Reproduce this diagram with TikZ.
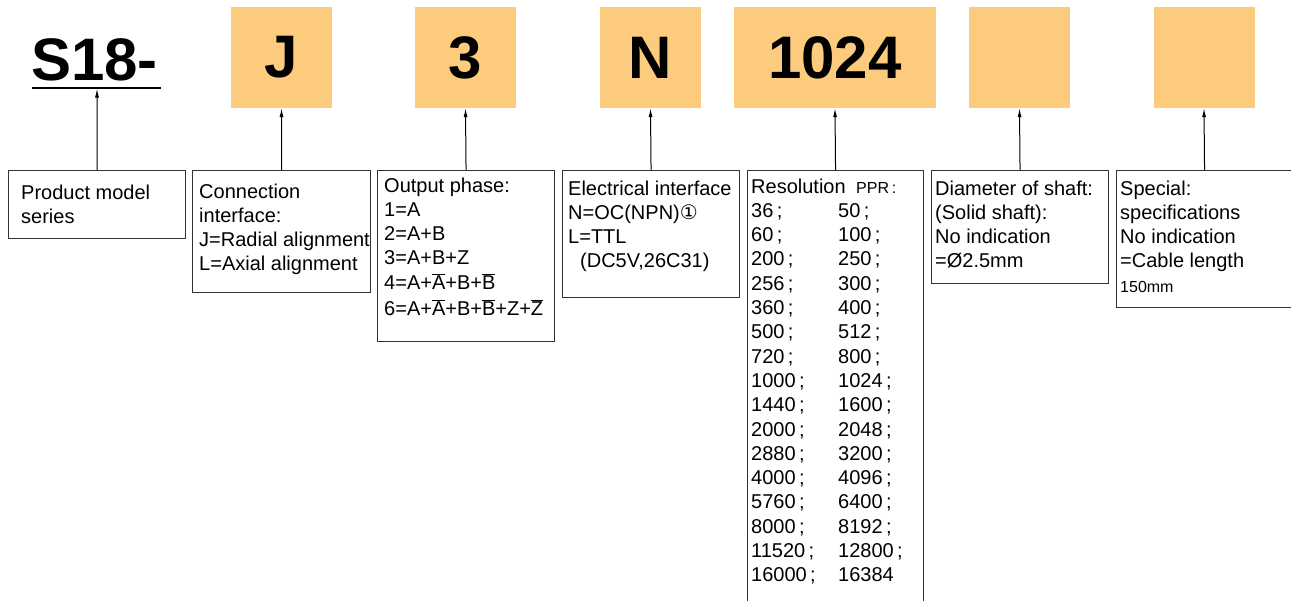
\documentclass[tikz,border=0pt]{standalone}
\usepackage{fontspec}
\setmainfont{Liberation Sans}
\newfontfamily\circfont{DejaVu Sans}
\usetikzlibrary{arrows.meta}
\definecolor{codeorange}{RGB}{253,203,125}
\newcommand{\rows}[1]{\begin{tabular}[t]{@{}l@{}}#1\end{tabular}}
\newcommand{\ov}[1]{$\overline{\mbox{#1}}$}
\begin{document}
\begin{tikzpicture}[x=1pt,y=-1pt,
    codebox/.style={fill=codeorange,minimum width=101pt,minimum height=101pt,inner sep=0pt,
      font=\fontsize{60}{60}\bfseries\selectfont},
    infobox/.style={draw=black!80,line width=1.1pt,anchor=north west,inner sep=0pt},
    infotext/.style={anchor=base west,inner sep=0pt,font=\fontsize{20}{24.3}\selectfont},
    arr/.style={line width=1pt,-{Latex[length=9pt,width=4pt]}}]
        \useasboundingbox (0,0) rectangle (1291,600);
        \clip (0,0) rectangle (1291,600);
        %% Model code
        \node[font=\fontsize{60}{60}\bfseries\selectfont,inner sep=0pt,anchor=base west] (S18) at (31,80) {S18-};
        \draw[line width=2pt] (32,87.5) -- (161,87.5);
        \coordinate (S18u) at (97,88.5);
        \node[codebox] (J) at (281.5,57.5) {J};
        \node[codebox] (ph) at (465.5,57.5) {3};
        \node[codebox] (el) at (650.5,57.5) {N};
        \node[codebox,minimum width=202pt] (rs) at (835,57.5) {1024};
        \node[codebox] (dia) at (1019.5,57.5) {};
        \node[codebox] (sp) at (1204,57.5) {};
        %% Description boxes
        \node[infobox,minimum width=177pt,minimum height=68pt] (pm-b) at (8,170) {};
        \node[infotext] (pm-t) at (21,199) {\rows{Product model\\series}};
        \node[infobox,minimum width=178pt,minimum height=122pt] (J-b) at (192,170) {};
        \node[infotext] (J-t) at (199,198) {\rows{Connection\\interface:\\J=Radial alignment\\L=Axial alignment}};
        \node[infobox,minimum width=177pt,minimum height=171pt] (ph-b) at (377,170) {};
        \node[infotext] (ph-t) at (384,192) {\rows{Output phase:\\1=A\\2=A+B\\3=A+B+Z\\4=A+\ov{A}+B+\ov{B}\\[2pt]6=A+\ov{A}+B+\ov{B}+Z+\ov{Z}}};
        \node[infobox,minimum width=177pt,minimum height=127pt] (el-b) at (562,170) {};
        \node[infotext] (el-t) at (568,195) {\rows{Electrical interface\\N=OC(NPN){\circfont ①}\\L=TTL\\\hspace{12pt}(DC5V,26C31)}};
        \node[infobox,minimum width=176pt,minimum height=440pt] (rs-b) at (747,170) {};
        \node[infotext] (rs-t) at (751,193) {\begin{tabular}[t]{@{}p{87pt}@{}l@{}}
            \multicolumn{2}{@{}l@{}}{\makebox[105pt][l]{Resolution}{\fontsize{16}{19}\selectfont PPR\,:}}\\
            36\,; & 50\,;\\
            60\,; & 100\,;\\
            200\,; & 250\,;\\
            256\,; & 300\,;\\
            360\,; & 400\,;\\
            500\,; & 512\,;\\
            720\,; & 800\,;\\
            1000\,; & 1024\,;\\
            1440\,; & 1600\,;\\
            2000\,; & 2048\,;\\
            2880\,; & 3200\,;\\
            4000\,; & 4096\,;\\
            5760\,; & 6400\,;\\
            8000\,; & 8192\,;\\
            11520\,; & 12800\,;\\
            16000\,; & 16384
          \end{tabular}};
        \node[infobox,minimum width=177pt,minimum height=113pt] (dia-b) at (931,170) {};
        \node[infotext] (dia-t) at (935,195) {\rows{Diameter of shaft:\\(Solid shaft):\\No indication\\=Ø2.5mm}};
        \node[infobox,minimum width=176pt,minimum height=137pt] (sp-b) at (1116,170) {};
        \node[infotext] (sp-t) at (1120,195) {\rows{Special:\\specifications\\No indication\\=Cable length\\{\fontsize{16}{19}\selectfont 150mm}}};
        %% Arrows
        \draw[arr] (pm-b.north) -- (S18u);
        \draw[arr] (J-b.north) -- (J.south);
        \draw[arr] (ph-b.north) -- (ph.south);
        \draw[arr] (el-b.north) -- (el.south);
        \draw[arr] (rs-b.north) -- (rs.south);
        \draw[arr] (dia-b.north) -- (dia.south);
        \draw[arr] (sp-b.north) -- (sp.south);
    \end{tikzpicture}
\end{document}
